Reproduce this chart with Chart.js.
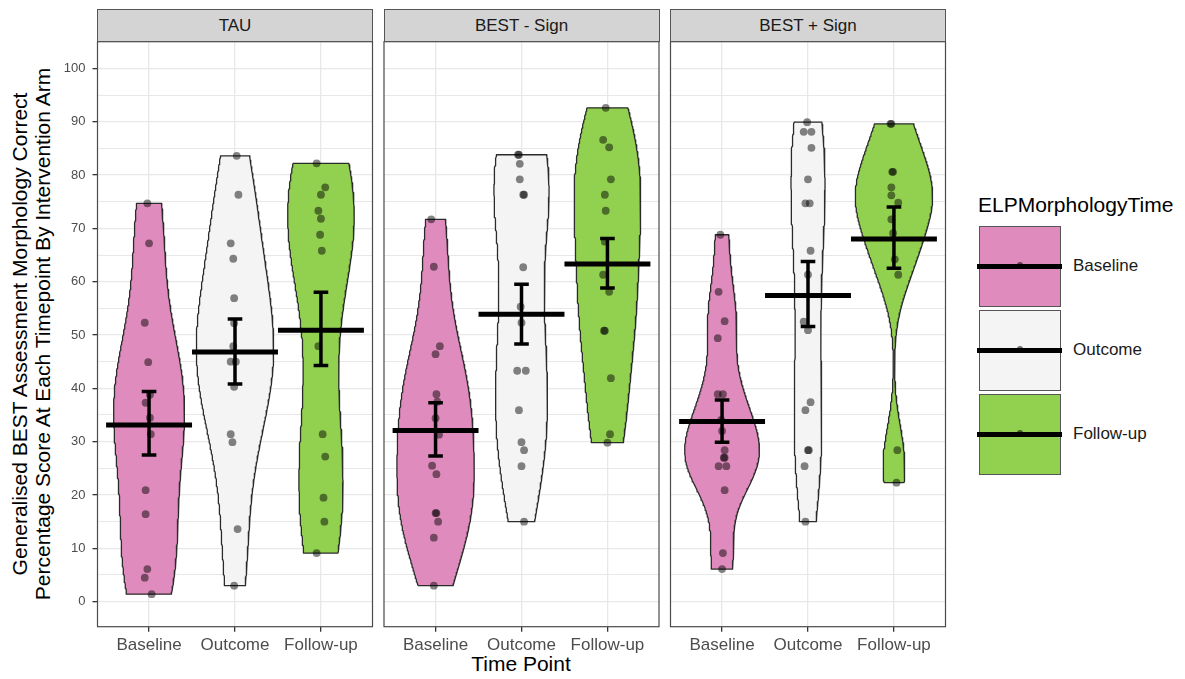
<!DOCTYPE html>
<html>
<head>
<meta charset="utf-8">
<script src="https://cdn.jsdelivr.net/npm/chart.js@4.4.1/dist/chart.umd.min.js"></script>
<style>
  html, body { margin: 0; padding: 0; background: #fff; }
  body { width: 1185px; height: 679px; position: relative; overflow: hidden;
         font-family: "Liberation Sans", Arial, Helvetica, sans-serif; }
  canvas.panel { position: absolute; left: 0; top: 0; }
  .strip { position: absolute; top: 9px; height: 33px; box-sizing: border-box;
           background: #d4d4d4; border: 1px solid #555; text-align: center;
           line-height: 31px; font-size: 17px; color: #1a1a1a; }
  .ytitle { position: absolute; width: 640px; height: 46px; left: -289px; top: 311px;
            transform: rotate(-90deg); transform-origin: 50% 50%;
            text-align: center; font-size: 21px; line-height: 23px; color: #000; white-space: nowrap; }
  .xtitle { position: absolute; left: 421px; width: 200px; top: 652px; text-align: center;
            font-size: 21px; color: #000; }
  .legend-title { position: absolute; left: 978px; top: 193px; font-size: 21px; color: #000; }
  .key { position: absolute; left: 979px; width: 82px; box-sizing: border-box; border: 1px solid #555; }
  .key-line { position: absolute; left: 977px; width: 85px; height: 5px; background: #000; }
  .key-dot { position: absolute; width: 6px; height: 6px; border-radius: 3px; background: rgba(0,0,0,0.55); }
  .key-label { position: absolute; left: 1073px; font-size: 17px; color: #1a1a1a; line-height: 20px; }
</style>
</head>
<body>
<div class="ytitle">Generalised BEST Assessment Morphology Correct<br>Percentage Score At Each Timepoint By Intervention Arm</div>
<div class="xtitle">Time Point</div>
<div id="legend"></div>

<script>
// ---- categories -------------------------------------------------------
const arms = ['TAU', 'BEST - Sign', 'BEST + Sign'];
const timepoints = ['Baseline', 'Outcome', 'Follow-up'];
const yTickLabels = [0, 10, 20, 30, 40, 50, 60, 70, 80, 90, 100];

// ---- individual scores (percentage correct) ------------------------------
const tauBaseline = [74.7, 67.2, 52.3, 44.9, 38.8, 37.3, 34.5, 31.4, 20.9, 16.4, 6.1, 4.5, 1.4];
const tauOutcome  = [83.6, 76.3, 67.2, 64.3, 56.9, 52.2, 47.9, 45.0, 45.0, 40.3, 31.4, 29.9, 13.6, 3.0];
const tauFollowUp = [82.2, 77.7, 76.3, 73.3, 71.8, 68.8, 65.8, 47.9, 31.4, 27.2, 19.5, 15.0, 9.1];

const noSignBaseline = [71.7, 62.8, 47.9, 46.4, 38.9, 37.5, 34.4, 31.3, 25.5, 23.9, 16.6, 16.6, 15.0, 12.0, 3.0];
const noSignOutcome  = [83.8, 83.8, 82.1, 79.2, 76.3, 76.3, 62.7, 55.3, 52.3, 43.3, 43.3, 35.9, 29.9, 28.4, 25.4, 15.0];
const noSignFollowUp = [92.6, 86.6, 85.2, 79.2, 76.3, 73.3, 67.5, 61.3, 58.1, 50.8, 50.8, 41.9, 31.4, 29.8];

const signBaseline = [68.8, 58.1, 52.6, 49.4, 38.9, 38.9, 34.1, 32.0, 28.4, 27.0, 27.0, 25.4, 25.4, 20.9, 9.1, 6.1];
const signOutcome  = [89.9, 88.1, 88.1, 85.1, 79.2, 74.7, 74.7, 65.8, 61.3, 52.5, 50.9, 37.4, 35.9, 28.4, 28.4, 25.4, 15.0];
const signFollowUp = [89.6, 89.6, 80.6, 80.6, 77.7, 76.2, 74.8, 71.7, 69.1, 64.2, 61.3, 28.4, 22.3];

// horizontal jitter of each score (in category widths)
const tauBaselineJit = [-0.02, 0, -0.05, -0.01, 0.01, -0.04, 0.01, 0.02, -0.04, -0.04, -0.02, -0.05, 0.03];
const tauOutcomeJit  = [0.02, 0.04, -0.05, -0.02, -0.01, -0.01, -0.02, -0.05, 0.01, -0.01, -0.05, -0.03, 0.03, -0.01];
const tauFollowUpJit = [-0.05, 0.05, 0, -0.03, 0, -0.01, 0.01, -0.03, 0.02, 0.05, 0.03, 0.04, -0.05];

const noSignBaselineJit = [-0.05, -0.02, 0.05, 0, 0.01, 0.02, 0, 0.04, -0.04, 0.01, 0, 0.01, 0.03, -0.02, -0.02];
const noSignOutcomeJit  = [-0.04, -0.03, -0.02, -0.02, 0.02, 0.03, 0.02, -0.01, 0, -0.05, 0.05, -0.03, 0, 0.03, 0, 0.03];
const noSignFollowUpJit = [-0.02, -0.05, 0.02, 0.04, -0.03, -0.02, -0.03, -0.05, 0.02, -0.04, -0.03, 0.04, 0.03, 0];

const signBaselineJit = [-0.02, -0.04, 0.03, -0.05, -0.05, 0.01, -0.01, 0, 0.03, 0.02, 0.03, -0.04, 0.05, 0.03, 0.01, 0];
const signOutcomeJit  = [-0.01, -0.05, 0.04, 0.04, 0, -0.03, 0.02, 0.03, 0, -0.05, 0, 0.03, -0.03, 0, 0.01, -0.04, -0.03];
const signFollowUpJit = [-0.04, -0.03, -0.02, -0.01, -0.03, -0.03, 0.05, -0.03, -0.01, 0.01, 0.05, 0.04, 0.03];

// ---- group means with error bars -----------------------------------------
const tauMean = [33.1, 46.8, 50.9];
const tauLow  = [27.5, 40.8, 44.3];
const tauHigh = [39.4, 53.0, 58.0];

const noSignMean = [32.1, 53.9, 63.3];
const noSignLow  = [27.3, 48.3, 58.8];
const noSignHigh = [37.3, 59.5, 68.1];

const signMean = [33.8, 57.4, 68.0];
const signLow  = [29.9, 51.6, 62.5];
const signHigh = [37.8, 63.8, 74.0];

// ---- styling & layout ----------------------------------------------------
const FONT = '"Liberation Sans", Arial, Helvetica, sans-serif';
const fills = ['#e08bbd', '#f4f4f4', '#92d050'];
const PANEL_LEFT = [97.5, 384, 670.5];
const PANEL_W = 275;
const PLOT_TOP = 41.7;
const PLOT_BOTTOM = 626.7;
const Y_MIN = -4.7, Y_MAX = 105;
const VIOLIN_WIDTH = 0.9;

const panels = [
  { scores: [tauBaseline, tauOutcome, tauFollowUp], jitter: [tauBaselineJit, tauOutcomeJit, tauFollowUpJit],
    mean: tauMean, low: tauLow, high: tauHigh },
  { scores: [noSignBaseline, noSignOutcome, noSignFollowUp], jitter: [noSignBaselineJit, noSignOutcomeJit, noSignFollowUpJit],
    mean: noSignMean, low: noSignLow, high: noSignHigh },
  { scores: [signBaseline, signOutcome, signFollowUp], jitter: [signBaselineJit, signOutcomeJit, signFollowUpJit],
    mean: signMean, low: signLow, high: signHigh }
];

// ---- kernel density (gaussian, Silverman bandwidth, trimmed to data range)
function quantile7(sorted, p) {
  const h = (sorted.length - 1) * p, lo = Math.floor(h);
  const hi = Math.min(lo + 1, sorted.length - 1);
  return sorted[lo] + (h - lo) * (sorted[hi] - sorted[lo]);
}
function bandwidth(v) {
  const n = v.length;
  const m = v.reduce((a, b) => a + b, 0) / n;
  const sd = Math.sqrt(v.reduce((a, b) => a + (b - m) * (b - m), 0) / (n - 1));
  const s = [...v].sort((a, b) => a - b);
  const iqr = (quantile7(s, 0.75) - quantile7(s, 0.25)) / 1.34;
  let lo = Math.min(sd, iqr);
  if (!(lo > 0)) lo = sd || 1;
  return 0.9 * lo * Math.pow(n, -0.2);
}
function density(v, steps) {
  const bw = bandwidth(v);
  const lo = Math.min(...v), hi = Math.max(...v);
  const norm = v.length * bw * Math.sqrt(2 * Math.PI);
  const out = [];
  for (let i = 0; i < steps; i++) {
    const y = lo + (hi - lo) * i / (steps - 1);
    let d = 0;
    for (const x of v) { const z = (y - x) / bw; d += Math.exp(-0.5 * z * z); }
    out.push({ y, d: d / norm });
  }
  return out;
}

// ---- panel frame drawn over the data --------------------------------------
const panelFrame = {
  id: 'panelFrame',
  afterDatasetsDraw(chart) {
    const { ctx, chartArea: a } = chart;
    ctx.save();
    ctx.strokeStyle = '#4a4a4a';
    ctx.lineWidth = 1.2;
    ctx.strokeRect(a.left, a.top, a.right - a.left, a.bottom - a.top);
    ctx.restore();
  }
};

function buildDatasets(p) {
  const dens = p.scores.map(s => density(s, 200));
  const maxD = Math.max(...dens.flat().map(q => q.d));
  const sets = [];
  p.scores.forEach((s, g) => {
    const cx = g + 1;
    // mean bar
    sets.push({ data: [{ x: cx - 0.5, y: p.mean[g] }, { x: cx + 0.5, y: p.mean[g] }],
      showLine: true, borderColor: '#000', borderWidth: 5, pointRadius: 0, borderCapStyle: 'butt', order: 0 });
    // error bar: stem and caps
    sets.push({ data: [{ x: cx, y: p.low[g] }, { x: cx, y: p.high[g] }],
      showLine: true, borderColor: '#000', borderWidth: 3.5, pointRadius: 0, borderCapStyle: 'butt', order: 0 });
    [p.low[g], p.high[g]].forEach(v => sets.push({
      data: [{ x: cx - 0.085, y: v }, { x: cx + 0.085, y: v }],
      showLine: true, borderColor: '#000', borderWidth: 3.5, pointRadius: 0, borderCapStyle: 'butt', order: 0 }));
    // individual scores
    sets.push({ data: s.map((v, k) => ({ x: cx + p.jitter[g][k], y: v })),
      showLine: false, pointRadius: 3.9, pointBorderWidth: 0,
      pointBackgroundColor: 'rgba(0,0,0,0.48)', order: 1 });
    // violin outline
    const left = dens[g].map(q => ({ x: cx - (VIOLIN_WIDTH / 2) * q.d / maxD, y: q.y }));
    const right = dens[g].map(q => ({ x: cx + (VIOLIN_WIDTH / 2) * q.d / maxD, y: q.y })).reverse();
    const shape = left.concat(right);
    shape.push(shape[0]);
    sets.push({ data: shape, showLine: true, fill: 'shape', backgroundColor: fills[g],
      borderColor: '#2b2b2b', borderWidth: 1.3, borderJoinStyle: 'round', pointRadius: 0, tension: 0, order: 2 });
  });
  return sets;
}

panels.forEach((p, i) => {
  const canvas = document.createElement('canvas');
  canvas.className = 'panel';
  canvas.width = 1185; canvas.height = 679;
  document.body.appendChild(canvas);

  const strip = document.createElement('div');
  strip.className = 'strip';
  strip.style.left = (PANEL_LEFT[i] - 0.5) + 'px';
  strip.style.width = (PANEL_W + 1) + 'px';
  strip.textContent = arms[i];
  document.body.appendChild(strip);

  const major = v => Math.abs(v % 10) < 1e-6;
  new Chart(canvas, {
    type: 'scatter',
    data: { datasets: buildDatasets(p) },
    options: {
      responsive: false, animation: false, events: [],
      layout: { padding: { left: i === 0 ? 0 : PANEL_LEFT[i], right: 1185 - PANEL_LEFT[i] - PANEL_W, top: PLOT_TOP, bottom: 0 } },
      plugins: { legend: { display: false }, tooltip: { enabled: false } },
      scales: {
        x: {
          type: 'linear', min: 0.4, max: 3.6,
          afterBuildTicks: s => { s.ticks = timepoints.map((t, k) => ({ value: k + 1 })); },
          afterFit: s => { s.height = 679 - PLOT_BOTTOM; },
          border: { display: false },
          grid: { color: '#e8e8e8', lineWidth: 1.3, tickColor: '#333', tickLength: 5, drawTicks: true },
          ticks: { autoSkip: false, maxRotation: 0, minRotation: 0, padding: 3, color: '#4d4d4d',
                   font: { family: FONT, size: 17 }, callback: v => timepoints[Math.round(v) - 1] }
        },
        y: {
          type: 'linear', min: Y_MIN, max: Y_MAX,
          afterBuildTicks: s => {
            const t = [];
            for (let v = yTickLabels[0]; v <= yTickLabels[yTickLabels.length - 1]; v += 5) t.push({ value: v });
            s.ticks = t;
          },
          afterFit: s => { s.width = i === 0 ? PANEL_LEFT[0] : 0; },
          border: { display: false },
          grid: {
            color: '#e8e8e8',
            lineWidth: c => (c.tick && major(c.tick.value)) ? 1.3 : 1,
            tickColor: c => (c.tick && major(c.tick.value)) ? '#333' : 'rgba(0,0,0,0)',
            tickLength: 5, drawTicks: i === 0
          },
          ticks: { display: i === 0, padding: 7, color: '#4d4d4d', font: { family: FONT, size: 13 },
                   callback: v => yTickLabels.includes(v) ? String(v) : '' }
        }
      }
    },
    plugins: [panelFrame]
  });
});

// ---- legend ----------------------------------------------------------------
(function () {
  const host = document.getElementById('legend');
  const title = document.createElement('div');
  title.className = 'legend-title';
  title.textContent = 'ELPMorphologyTime';
  host.appendChild(title);
  const tops = [225.5, 309.5, 393.5];
  timepoints.forEach((t, k) => {
    const key = document.createElement('div');
    key.className = 'key';
    key.style.top = tops[k] + 'px';
    key.style.height = '81px';
    key.style.background = fills[k];
    host.appendChild(key);
    const mid = tops[k] + 40.5;
    const line = document.createElement('div');
    line.className = 'key-line';
    line.style.top = (mid - 2.5) + 'px';
    host.appendChild(line);
    const dot = document.createElement('div');
    dot.className = 'key-dot';
    dot.style.left = '1017px';
    dot.style.top = (mid - 4) + 'px';
    host.appendChild(dot);
    const lab = document.createElement('div');
    lab.className = 'key-label';
    lab.style.top = (mid - 10) + 'px';
    lab.textContent = t;
    host.appendChild(lab);
  });
})();
</script>
</body>
</html>
